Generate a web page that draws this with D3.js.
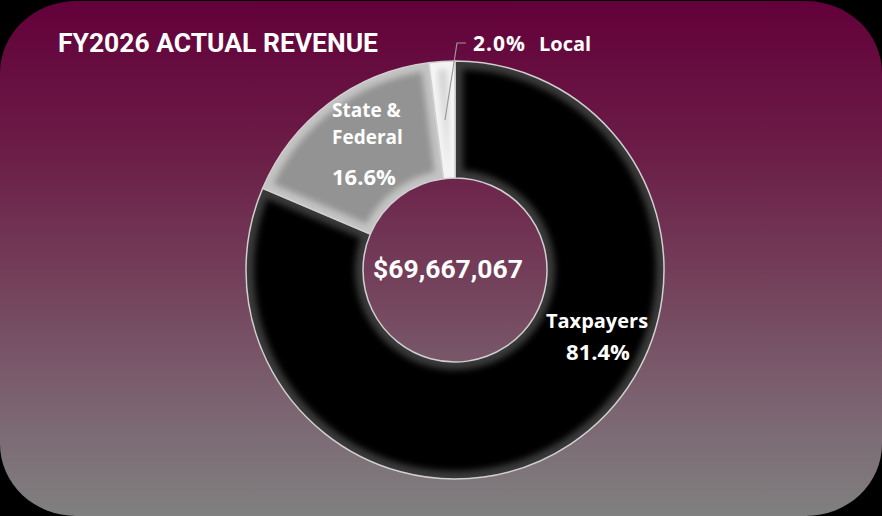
<!DOCTYPE html>
<html>
<head>
<meta charset="utf-8">
<script src="https://cdn.jsdelivr.net/npm/d3@7"></script>
<style>
  html, body { margin: 0; padding: 0; background: #000; }
  svg { display: block; }
  text { font-family: "Open Sans", "Noto Sans", sans-serif; font-weight: 700; fill: #fff; }
</style>
</head>
<body>
<div class="mainCont"></div>
<script>
var categories = ["Taxpayers", "State & Federal", "Local"];
var shares = [81.4, 16.6, 2.0];
var totalRevenue = 69667067;
var title = "FY2026 ACTUAL REVENUE";

var width = 882,
    height = 516,
    cx = 455,
    cy = 270,
    outerR = 209,
    innerR = 92;

// slice colours: edge (bevel) and body
var edgeColor = d3.scaleOrdinal().domain(categories).range(["#3a3a3a", "#c4c4c4", "#f4f4f4"]);
var bodyColor = d3.scaleOrdinal().domain(categories).range(["#050505", "#939393", "#d2d2d2"]);

var svg = d3.select(".mainCont").append("svg")
    .attr("width", width)
    .attr("height", height);

var defs = svg.append("defs");

var bg = defs.append("linearGradient")
    .attr("id", "bg")
    .attr("x1", 0).attr("y1", 0).attr("x2", 0).attr("y2", 1);
[[0, "#63003a"], [0.3, "#6b1e47"], [0.5, "#723a57"], [0.78, "#7b6370"], [1, "#808080"]].forEach(function(s) {
    bg.append("stop").attr("offset", s[0]).attr("stop-color", s[1]);
});

defs.append("filter")
    .attr("id", "soft")
    .attr("x", "-20%").attr("y", "-20%").attr("width", "140%").attr("height", "140%")
    .append("feGaussianBlur")
    .attr("stdDeviation", 3);

svg.append("rect")
    .attr("width", width)
    .attr("height", height)
    .attr("fill", "#000");

svg.append("rect")
    .attr("x", 0)
    .attr("y", 1)
    .attr("width", width)
    .attr("height", height - 1)
    .attr("rx", 76)
    .attr("ry", 72)
    .attr("fill", "url(#bg)");

// title
svg.append("text")
    .attr("x", 58)
    .attr("y", 52)
    .attr("textLength", 320)
    .attr("lengthAdjust", "spacingAndGlyphs")
    .style("font-family", "Roboto, sans-serif")
    .style("font-size", "26px")
    .text(title);

// pie
var pie = d3.pie()
    .sort(null)
    .value(function(d) { return d; });

var arc = d3.arc()
    .outerRadius(outerR)
    .innerRadius(innerR);

var insetArc = d3.arc()
    .outerRadius(outerR - 8)
    .innerRadius(innerR + 8)
    .padRadius(100)
    .padAngle(0.16);

var arcs = pie(shares);

var g = svg.append("g")
    .attr("transform", "translate(" + cx + "," + cy + ")");

var slice = g.selectAll(".arc")
    .data(arcs)
    .enter().append("g")
    .attr("class", "arc");

slice.append("clipPath")
    .attr("id", function(d, i) { return "clip" + i; })
    .append("path")
    .attr("d", arc);

slice.append("path")
    .attr("d", arc)
    .style("fill", function(d, i) { return edgeColor(categories[i]); });

slice.append("path")
    .attr("d", insetArc)
    .attr("clip-path", function(d, i) { return "url(#clip" + i + ")"; })
    .attr("filter", "url(#soft)")
    .style("fill", function(d, i) { return bodyColor(categories[i]); });

slice.append("path")
    .attr("d", arc)
    .style("fill", "none")
    .style("stroke", "#d0d0d0")
    .style("stroke-width", 1.5);

// centre total
g.append("text")
    .attr("x", -7)
    .attr("y", 8)
    .attr("text-anchor", "middle")
    .style("font-family", "Roboto, sans-serif")
    .style("font-size", "26.5px")
    .text(d3.format("$,")(totalRevenue));

// labels
var fmt = function(v) { return v.toFixed(1) + "%"; };

var tax = svg.append("text")
    .attr("text-anchor", "middle")
    .style("font-size", "20px");
tax.append("tspan").attr("x", 597).attr("y", 328).text(categories[0]);
tax.append("tspan").attr("x", 598).attr("y", 360).style("font-size", "22px").text(fmt(shares[0]));

var sf = svg.append("text")
    .style("font-size", "19px");
sf.append("tspan").attr("x", 332).attr("y", 117).text("State &");
sf.append("tspan").attr("x", 332).attr("y", 144).text("Federal");
sf.append("tspan").attr("x", 332).attr("y", 185).style("font-size", "22px").text(fmt(shares[1]));

// local label with leader line
svg.append("polyline")
    .attr("points", "466,43 457,43 445,120")
    .style("fill", "none")
    .style("stroke", "#9a9a9a")
    .style("stroke-width", 1.2);

var loc = svg.append("text")
    .style("font-size", "21px");
loc.append("tspan").attr("x", 473).attr("y", 51).style("letter-spacing", "1px").text(fmt(shares[2]));
loc.append("tspan").attr("x", 539).attr("y", 51).style("font-size", "20px").text(categories[2]);
</script>
</body>
</html>
